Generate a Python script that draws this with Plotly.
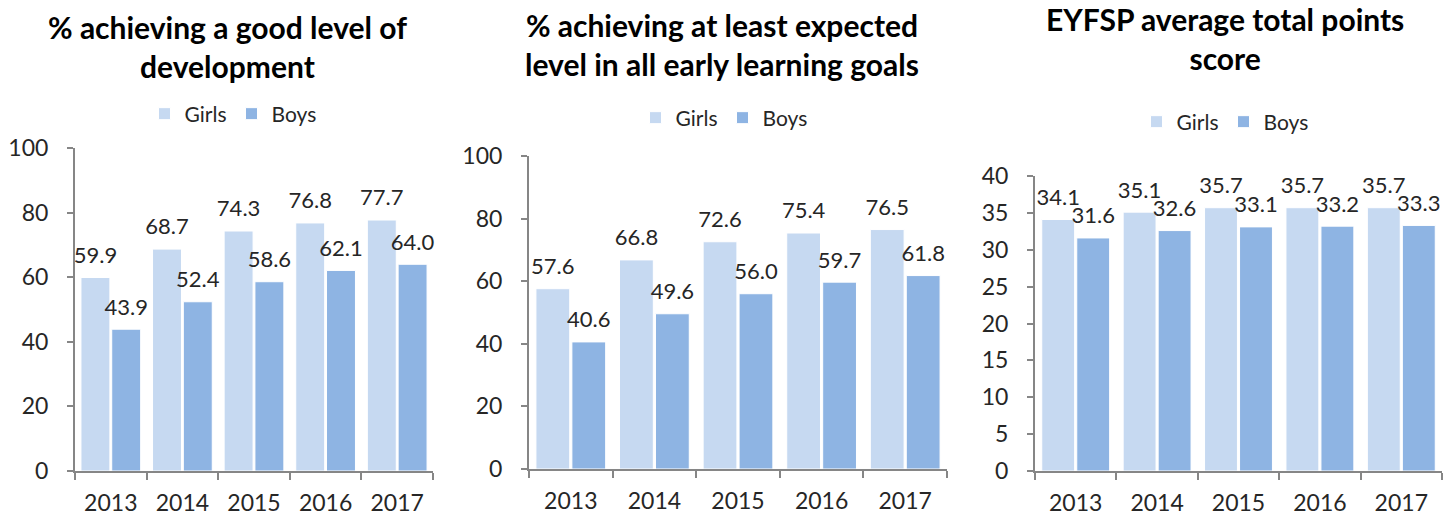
import plotly.graph_objects as go

years = ["2013", "2014", "2015", "2016", "2017"]

gld_girls = [59.9, 68.7, 74.3, 76.8, 77.7]
gld_boys = [43.9, 52.4, 58.6, 62.1, 64.0]

elg_girls = [57.6, 66.8, 72.6, 75.4, 76.5]
elg_boys = [40.6, 49.6, 56.0, 59.7, 61.8]

pts_girls = [34.1, 35.1, 35.7, 35.7, 35.7]
pts_boys = [31.6, 32.6, 33.1, 33.2, 33.3]

titles = [
    "% achieving a good level of<br>development",
    "% achieving at least expected<br>level in all early learning goals",
    "EYFSP average total points<br>score",
]

W, H = 1451, 519
GIRL_C = "#C6D9F1"
BOY_C = "#8EB4E3"
FONT = "Lato"
TXT = "#262626"
AX = "#868686"

panels = [
    dict(girls=gld_girls, boys=gld_boys, x=(75, 433), y0=471, ytop=148, rng=100, dt=20,
         legx=233, legy=114, tx=227, ty=46),
    dict(girls=elg_girls, boys=elg_boys, x=(529, 947), y0=469, ytop=156, rng=100, dt=20,
         legx=724, legy=118, tx=722, ty=44.5),
    dict(girls=pts_girls, boys=pts_boys, x=(1035, 1442), y0=471, ytop=176, rng=40, dt=5,
         legx=1225, legy=122, tx=1225, ty=38.5),
]

fig = go.Figure()
annotations = []
for i, p in enumerate(panels):
    n = "" if i == 0 else str(i + 1)
    xa, ya = "x" + n, "y" + n
    leg = "legend" + n
    for name, vals, col, grp in [("Girls", p["girls"], GIRL_C, "g"), ("Boys", p["boys"], BOY_C, "b")]:
        fig.add_trace(go.Bar(
            x=years, y=vals, name=name, xaxis=xa, yaxis=ya, legend=leg,
            offsetgroup=grp,
            marker=dict(color=col, line=dict(color="white", width=1)),
        ))
    for name, vals, grp in [("Girls", p["girls"], "g"), ("Boys", p["boys"], "b")]:
        fig.add_trace(go.Scatter(
            x=years, y=vals, name=name, xaxis=xa, yaxis=ya, legend=leg,
            offsetgroup=grp, mode="markers+text", showlegend=False, hoverinfo="skip",
            marker=dict(size=13, color="rgba(0,0,0,0)"),
            text=[f"{v:.1f}" for v in vals], textposition="top center",
            textfont=dict(family=FONT, size=22, color=TXT),
            cliponaxis=False,
        ))
    fig.update_layout(**{
        "xaxis" + n: dict(
            domain=[p["x"][0] / W, p["x"][1] / W], anchor=ya, automargin=False,
            showline=True, linecolor=AX, linewidth=2,
            ticks="outside", tickson="boundaries", ticklen=7, tickcolor=AX, tickwidth=2,
            ticklabelstandoff=10,
            tickfont=dict(family=FONT, size=23, color=TXT), showgrid=False,
        ),
        "yaxis" + n: dict(
            domain=[1 - p["y0"] / H, 1 - p["ytop"] / H], anchor=xa, automargin=False,
            range=[0, p["rng"]], dtick=p["dt"], tick0=0,
            showline=True, linecolor=AX, linewidth=2,
            ticks="outside", ticklen=6, tickcolor=AX, tickwidth=2,
            ticklabelstandoff=14,
            tickfont=dict(family=FONT, size=23, color=TXT), showgrid=False, zeroline=False,
        ),
        leg: dict(
            orientation="h", x=p["legx"] / W, y=1 - p["legy"] / H,
            xanchor="center", yanchor="middle",
            font=dict(family=FONT, size=21, color=TXT), bgcolor="rgba(0,0,0,0)",
            itemwidth=30,
        ),
    })
    annotations.append(dict(
        text="<b>" + titles[i] + "</b>", x=p["tx"] / W, y=1 - p["ty"] / H,
        xref="paper", yref="paper", xanchor="center", yanchor="middle",
        showarrow=False, font=dict(family=FONT, size=30, color="#000000"),
    ))

fig.update_layout(
    width=W, height=H, margin=dict(l=0, r=0, t=0, b=0, autoexpand=False),
    paper_bgcolor="white", plot_bgcolor="white",
    barmode="group", bargap=0.14, bargroupgap=0.06,
    scattermode="group", scattergap=0.14,
    annotations=annotations, showlegend=True,
)

fig.write_html(
    "out.html",
    config={"displayModeBar": False},
    post_script="document.body.style.margin='0px';document.body.style.overflow='hidden';",
)
